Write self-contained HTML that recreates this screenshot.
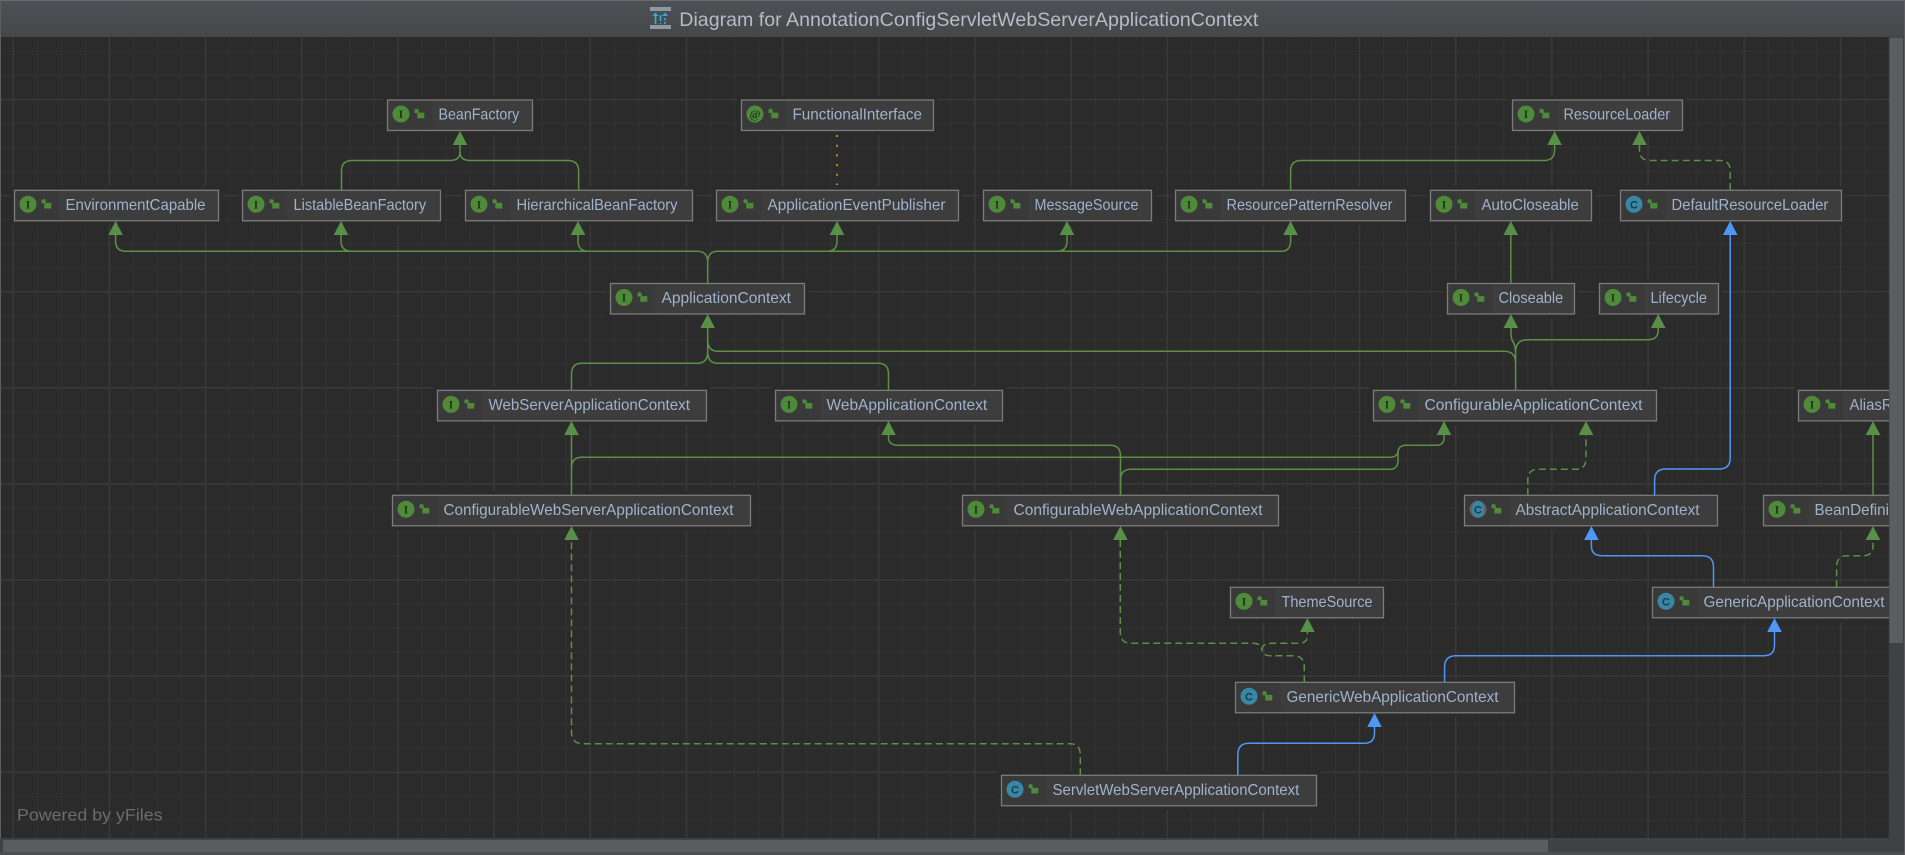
<!DOCTYPE html>
<html><head><meta charset="utf-8"><title>Diagram</title>
<style>
html,body{margin:0;padding:0;background:#2b2b2b;width:1905px;height:855px;overflow:hidden}
svg{display:block}
.h{fill:#2b2b2b}
.b{fill:#3d3d3d;stroke:#7b7b7b;stroke-width:1.3}
.i{fill:#393939}
.t{font:16px "Liberation Sans",sans-serif;fill:#a0b3cc}
.g{fill:#4f8a3a}.c{fill:#3a87a5}
.l{font:bold 12px "Liberation Serif",serif;fill:#24381c;text-anchor:middle}
.m{font:bold 11px "Liberation Sans",sans-serif;fill:#143c4c;text-anchor:middle}
.e{fill:none;stroke:#5d8f47;stroke-width:1.5}
.d{fill:none;stroke:#5d8f47;stroke-width:1.5;stroke-dasharray:7 4}
.u{fill:none;stroke:#4f97f5;stroke-width:1.5}
</style></head><body>
<svg width="1905" height="855" viewBox="0 0 1905 855" xmlns="http://www.w3.org/2000/svg">
<defs>
<pattern id="mi" x="12.7" y="2.8" width="24.04" height="24.03" patternUnits="userSpaceOnUse"><path d="M0 .6H24.04M.6 0V24.03" stroke="#323232" stroke-width="1" fill="none"/></pattern>
<pattern id="ma" x="12.6" y="2.7" width="96.17" height="96.1" patternUnits="userSpaceOnUse"><path d="M0 .6H96.17M.6 0V96.1" stroke="#3b3b3b" stroke-width="1.2" fill="none"/></pattern>
<linearGradient id="tb" x1="0" y1="0" x2="0" y2="1"><stop offset="0" stop-color="#4e5155"/><stop offset="1" stop-color="#45484b"/></linearGradient>
<clipPath id="cv"><rect x="0" y="37" width="1889" height="801"/></clipPath>
<path id="k" d="M27 13V10.5Q27 8.8 29 8.8Q31.2 8.8 31.2 10.8V12.6H36.8V18.2H29.8V13Z" fill="#4f8a3a"/>
<path id="ag" d="M0 0L7.3 14H-7.3Z" fill="#5a8f47"/>
<path id="ab" d="M0 0L7.3 14H-7.3Z" fill="#4f97f5"/>
</defs>
<rect width="1905" height="855" fill="#3c3f41"/>
<rect x="0" y="37" width="1889" height="801" fill="#2b2b2b"/>
<rect x="0" y="37" width="1889" height="801" fill="url(#mi)"/>
<rect x="0" y="37" width="1889" height="801" fill="url(#ma)"/>
<rect x="0" y="0" width="1905" height="37" fill="url(#tb)"/>
<rect x="0" y="0" width="1905" height="1" fill="#6a6a6a"/>
<rect x="0" y="0" width="1" height="855" fill="#5e5e5e"/>
<g>
<rect x="650" y="7" width="21" height="4" fill="#8d9aa3"/><rect x="650" y="25" width="21" height="4" fill="#8d9aa3"/>
<path d="M655.5 24V15M660.5 24V23M660.5 21V15" stroke="#35a8dc" stroke-width="1.6" fill="none"/>
<path d="M652.5 16L655.5 12.5L658.5 16ZM662 16L665 12.5L668 16Z" fill="#35a8dc"/>
<path d="M665 24V22M665 20.5V18" stroke="#35a8dc" stroke-width="1.6" fill="none"/>
</g>
<text x="679.3" y="26" font-family="Liberation Sans, sans-serif" font-size="19.5" fill="#b4bcc4" textLength="579" lengthAdjust="spacingAndGlyphs">Diagram for AnnotationConfigServletWebServerApplicationContext</text>

<g clip-path="url(#cv)">
<g transform="translate(387.5,100)"><rect class="h" x="-4" y="-4" width="153" height="39"/><rect class="b" width="145" height="30.5"/><rect class="i" x="1" y="1" width="44" height="28.5"/><circle class="g" cx="13.5" cy="14" r="8.5"/><text class="l" x="13.5" y="18">I</text><use href="#k"/><text class="t" x="51" y="19.7" textLength="80.7" lengthAdjust="spacingAndGlyphs">BeanFactory</text></g>
<g transform="translate(741.5,100)"><rect class="h" x="-4" y="-4" width="200" height="39"/><rect class="b" width="192" height="30.5"/><rect class="i" x="1" y="1" width="44" height="28.5"/><circle class="g" cx="13.5" cy="14" r="8.5"/><text class="l" x="13.5" y="18">@</text><use href="#k"/><text class="t" x="51" y="19.7" textLength="129.4" lengthAdjust="spacingAndGlyphs">FunctionalInterface</text></g>
<g transform="translate(1512.5,100)"><rect class="h" x="-4" y="-4" width="178" height="39"/><rect class="b" width="170" height="30.5"/><rect class="i" x="1" y="1" width="44" height="28.5"/><circle class="g" cx="13.5" cy="14" r="8.5"/><text class="l" x="13.5" y="18">I</text><use href="#k"/><text class="t" x="51" y="19.7" textLength="106.6" lengthAdjust="spacingAndGlyphs">ResourceLoader</text></g>

<g transform="translate(14.5,190.3)"><rect class="h" x="-4" y="-4" width="212" height="39"/><rect class="b" width="204" height="30.5"/><rect class="i" x="1" y="1" width="44" height="28.5"/><circle class="g" cx="13.5" cy="14" r="8.5"/><text class="l" x="13.5" y="18">I</text><use href="#k"/><text class="t" x="51" y="19.7" textLength="140" lengthAdjust="spacingAndGlyphs">EnvironmentCapable</text></g>
<g transform="translate(242.5,190.3)"><rect class="h" x="-4" y="-4" width="206" height="39"/><rect class="b" width="198" height="30.5"/><rect class="i" x="1" y="1" width="44" height="28.5"/><circle class="g" cx="13.5" cy="14" r="8.5"/><text class="l" x="13.5" y="18">I</text><use href="#k"/><text class="t" x="51" y="19.7" textLength="132.6" lengthAdjust="spacingAndGlyphs">ListableBeanFactory</text></g>
<g transform="translate(465.5,190.3)"><rect class="h" x="-4" y="-4" width="235" height="39"/><rect class="b" width="227" height="30.5"/><rect class="i" x="1" y="1" width="44" height="28.5"/><circle class="g" cx="13.5" cy="14" r="8.5"/><text class="l" x="13.5" y="18">I</text><use href="#k"/><text class="t" x="51" y="19.7" textLength="161" lengthAdjust="spacingAndGlyphs">HierarchicalBeanFactory</text></g>
<g transform="translate(716.5,190.3)"><rect class="h" x="-4" y="-4" width="250" height="39"/><rect class="b" width="242" height="30.5"/><rect class="i" x="1" y="1" width="44" height="28.5"/><circle class="g" cx="13.5" cy="14" r="8.5"/><text class="l" x="13.5" y="18">I</text><use href="#k"/><text class="t" x="51" y="19.7" textLength="178" lengthAdjust="spacingAndGlyphs">ApplicationEventPublisher</text></g>
<g transform="translate(983.5,190.3)"><rect class="h" x="-4" y="-4" width="176" height="39"/><rect class="b" width="168" height="30.5"/><rect class="i" x="1" y="1" width="44" height="28.5"/><circle class="g" cx="13.5" cy="14" r="8.5"/><text class="l" x="13.5" y="18">I</text><use href="#k"/><text class="t" x="51" y="19.7" textLength="104" lengthAdjust="spacingAndGlyphs">MessageSource</text></g>
<g transform="translate(1175.5,190.3)"><rect class="h" x="-4" y="-4" width="238" height="39"/><rect class="b" width="230" height="30.5"/><rect class="i" x="1" y="1" width="44" height="28.5"/><circle class="g" cx="13.5" cy="14" r="8.5"/><text class="l" x="13.5" y="18">I</text><use href="#k"/><text class="t" x="51" y="19.7" textLength="166" lengthAdjust="spacingAndGlyphs">ResourcePatternResolver</text></g>
<g transform="translate(1430.5,190.3)"><rect class="h" x="-4" y="-4" width="169" height="39"/><rect class="b" width="161" height="30.5"/><rect class="i" x="1" y="1" width="44" height="28.5"/><circle class="g" cx="13.5" cy="14" r="8.5"/><text class="l" x="13.5" y="18">I</text><use href="#k"/><text class="t" x="51" y="19.7" textLength="97.3" lengthAdjust="spacingAndGlyphs">AutoCloseable</text></g>
<g transform="translate(1620.5,190.3)"><rect class="h" x="-4" y="-4" width="229" height="39"/><rect class="b" width="221" height="30.5"/><rect class="i" x="1" y="1" width="44" height="28.5"/><circle class="c" cx="13.5" cy="14" r="8.5"/><text class="m" x="13.5" y="18">C</text><use href="#k"/><text class="t" x="51" y="19.7" textLength="156.8" lengthAdjust="spacingAndGlyphs">DefaultResourceLoader</text></g>

<g transform="translate(610.5,283.5)"><rect class="h" x="-4" y="-4" width="202" height="39"/><rect class="b" width="194" height="30.5"/><rect class="i" x="1" y="1" width="44" height="28.5"/><circle class="g" cx="13.5" cy="14" r="8.5"/><text class="l" x="13.5" y="18">I</text><use href="#k"/><text class="t" x="51" y="19.7" textLength="129.5" lengthAdjust="spacingAndGlyphs">ApplicationContext</text></g>
<g transform="translate(1447.5,283.5)"><rect class="h" x="-4" y="-4" width="135" height="39"/><rect class="b" width="127" height="30.5"/><rect class="i" x="1" y="1" width="44" height="28.5"/><circle class="g" cx="13.5" cy="14" r="8.5"/><text class="l" x="13.5" y="18">I</text><use href="#k"/><text class="t" x="51" y="19.7" textLength="64.7" lengthAdjust="spacingAndGlyphs">Closeable</text></g>
<g transform="translate(1599.5,283.5)"><rect class="h" x="-4" y="-4" width="127" height="39"/><rect class="b" width="119" height="30.5"/><rect class="i" x="1" y="1" width="44" height="28.5"/><circle class="g" cx="13.5" cy="14" r="8.5"/><text class="l" x="13.5" y="18">I</text><use href="#k"/><text class="t" x="51" y="19.7" textLength="56.4" lengthAdjust="spacingAndGlyphs">Lifecycle</text></g>

<g transform="translate(437.5,390.4)"><rect class="h" x="-4" y="-4" width="277" height="39"/><rect class="b" width="269" height="30.5"/><rect class="i" x="1" y="1" width="44" height="28.5"/><circle class="g" cx="13.5" cy="14" r="8.5"/><text class="l" x="13.5" y="18">I</text><use href="#k"/><text class="t" x="51" y="19.7" textLength="201.4" lengthAdjust="spacingAndGlyphs">WebServerApplicationContext</text></g>
<g transform="translate(775.5,390.4)"><rect class="h" x="-4" y="-4" width="235" height="39"/><rect class="b" width="227" height="30.5"/><rect class="i" x="1" y="1" width="44" height="28.5"/><circle class="g" cx="13.5" cy="14" r="8.5"/><text class="l" x="13.5" y="18">I</text><use href="#k"/><text class="t" x="51" y="19.7" textLength="160.7" lengthAdjust="spacingAndGlyphs">WebApplicationContext</text></g>
<g transform="translate(1373.5,390.4)"><rect class="h" x="-4" y="-4" width="291" height="39"/><rect class="b" width="283" height="30.5"/><rect class="i" x="1" y="1" width="44" height="28.5"/><circle class="g" cx="13.5" cy="14" r="8.5"/><text class="l" x="13.5" y="18">I</text><use href="#k"/><text class="t" x="51" y="19.7" textLength="218" lengthAdjust="spacingAndGlyphs">ConfigurableApplicationContext</text></g>
<g transform="translate(1798.5,390.4)"><rect class="h" x="-4" y="-4" width="150" height="39"/><rect class="b" width="142" height="30.5"/><rect class="i" x="1" y="1" width="44" height="28.5"/><circle class="g" cx="13.5" cy="14" r="8.5"/><text class="l" x="13.5" y="18">I</text><use href="#k"/><text class="t" x="51" y="19.7" textLength="87" lengthAdjust="spacingAndGlyphs">AliasRegistry</text></g>

<g transform="translate(392.5,495.3)"><rect class="h" x="-4" y="-4" width="366" height="39"/><rect class="b" width="358" height="30.5"/><rect class="i" x="1" y="1" width="44" height="28.5"/><circle class="g" cx="13.5" cy="14" r="8.5"/><text class="l" x="13.5" y="18">I</text><use href="#k"/><text class="t" x="51" y="19.7" textLength="290" lengthAdjust="spacingAndGlyphs">ConfigurableWebServerApplicationContext</text></g>
<g transform="translate(962.5,495.3)"><rect class="h" x="-4" y="-4" width="324" height="39"/><rect class="b" width="316" height="30.5"/><rect class="i" x="1" y="1" width="44" height="28.5"/><circle class="g" cx="13.5" cy="14" r="8.5"/><text class="l" x="13.5" y="18">I</text><use href="#k"/><text class="t" x="51" y="19.7" textLength="249" lengthAdjust="spacingAndGlyphs">ConfigurableWebApplicationContext</text></g>
<g transform="translate(1464.5,495.3)"><rect class="h" x="-4" y="-4" width="261" height="39"/><rect class="b" width="253" height="30.5"/><rect class="i" x="1" y="1" width="44" height="28.5"/><circle cx="13.5" cy="14" r="8.5" fill="#5f6366"/><ellipse class="c" cx="13.5" cy="14" rx="6" ry="8.5"/><text class="m" x="13.5" y="18">C</text><use href="#k"/><text class="t" x="51" y="19.7" textLength="184" lengthAdjust="spacingAndGlyphs">AbstractApplicationContext</text></g>
<g transform="translate(1763.5,495.3)"><rect class="h" x="-4" y="-4" width="228" height="39"/><rect class="b" width="220" height="30.5"/><rect class="i" x="1" y="1" width="44" height="28.5"/><circle class="g" cx="13.5" cy="14" r="8.5"/><text class="l" x="13.5" y="18">I</text><use href="#k"/><text class="t" x="51" y="19.7" textLength="155" lengthAdjust="spacingAndGlyphs">BeanDefinitionRegistry</text></g>

<g transform="translate(1230.5,587.3)"><rect class="h" x="-4" y="-4" width="161" height="39"/><rect class="b" width="153" height="30.5"/><rect class="i" x="1" y="1" width="44" height="28.5"/><circle class="g" cx="13.5" cy="14" r="8.5"/><text class="l" x="13.5" y="18">I</text><use href="#k"/><text class="t" x="51" y="19.7" textLength="91" lengthAdjust="spacingAndGlyphs">ThemeSource</text></g>
<g transform="translate(1652.5,587.3)"><rect class="h" x="-4" y="-4" width="248" height="39"/><rect class="b" width="240" height="30.5"/><rect class="i" x="1" y="1" width="44" height="28.5"/><circle class="c" cx="13.5" cy="14" r="8.5"/><text class="m" x="13.5" y="18">C</text><use href="#k"/><text class="t" x="51" y="19.7" textLength="181" lengthAdjust="spacingAndGlyphs">GenericApplicationContext</text></g>

<g transform="translate(1235.5,682.3)"><rect class="h" x="-4" y="-4" width="287" height="39"/><rect class="b" width="279" height="30.5"/><rect class="i" x="1" y="1" width="44" height="28.5"/><circle class="c" cx="13.5" cy="14" r="8.5"/><text class="m" x="13.5" y="18">C</text><use href="#k"/><text class="t" x="51" y="19.7" textLength="212" lengthAdjust="spacingAndGlyphs">GenericWebApplicationContext</text></g>
<g transform="translate(1001.5,775.3)"><rect class="h" x="-4" y="-4" width="323" height="39"/><rect class="b" width="315" height="30.5"/><rect class="i" x="1" y="1" width="44" height="28.5"/><circle class="c" cx="13.5" cy="14" r="8.5"/><text class="m" x="13.5" y="18">C</text><use href="#k"/><text class="t" x="51" y="19.7" textLength="246.8" lengthAdjust="spacingAndGlyphs">ServletWebServerApplicationContext</text></g>

<!-- solid green -->
<path class="e" d="M460 145V152Q460 160.5 450 160.5H352Q341.5 160.5 341.5 171V190"/>
<path class="e" d="M460 152Q460 160.5 470 160.5H568Q578.6 160.5 578.6 171V190"/>
<path class="e" d="M707.7 283V262Q707.7 251.3 697 251.3H126Q115.6 251.3 115.6 241V235"/>
<path class="e" d="M352 251.3Q341 251.3 341 241V235M589 251.3Q578 251.3 578 241V235"/>
<path class="e" d="M707.7 262Q707.7 251.3 718 251.3H1281Q1290.6 251.3 1290.6 241V235"/>
<path class="e" d="M827 251.3Q837 251.3 837 241V235M1057 251.3Q1067 251.3 1067 241V235"/>
<path class="e" d="M1290.6 190V171Q1290.6 160.5 1301 160.5H1544Q1554.6 160.5 1554.6 150V145"/>
<path class="e" d="M1510.8 283.5V235"/>
<path class="e" d="M1515.6 390.4V353Q1515.6 345 1512 340Q1510.9 337 1510.9 330V328"/>
<path class="e" d="M1515.6 352Q1515.6 339.7 1528 339.7H1648Q1658.2 339.7 1658.2 330V328"/>
<path class="e" d="M1515.6 363Q1515.6 351.3 1504 351.3H718Q707.7 351.3 707.7 340V328"/>
<path class="e" d="M571.5 390.4V374Q571.5 363.3 582 363.3H697Q707.7 363.3 707.7 352V328"/>
<path class="e" d="M707.7 352Q707.7 363.3 718 363.3H878Q888.5 363.3 888.5 374V390.4"/>
<path class="e" d="M1120.5 495.3V456Q1120.5 445.3 1110 445.3H899Q888.5 445.3 888.5 438V435"/>
<path class="e" d="M571.5 495.3V435"/>
<path class="e" d="M571.5 468Q571.5 457.3 582 457.3H1390Q1398 457.3 1398 450"/>
<path class="e" d="M1120.5 495.3V480Q1120.5 469.3 1131 469.3H1390Q1398 469.3 1398 460V453Q1398 445.3 1406 445.3H1436Q1444 445.3 1444 438V435"/>
<path class="e" d="M1873 495.3V435"/>
<!-- dashed green -->
<path class="d" d="M1730.2 190V171Q1730.2 160.5 1720 160.5H1650Q1639.5 160.5 1639.5 150V145"/>
<path class="d" d="M1527.8 495.3V480Q1527.8 469.3 1538 469.3H1576Q1586 469.3 1586 458V435"/>
<path class="d" d="M1836.6 587.3V567Q1836.6 555.7 1847 555.7H1863Q1873 555.7 1873 546V540"/>
<path class="d" d="M1120.3 540V632Q1120.3 643.3 1131 643.3H1252Q1261.8 643.3 1261.8 650"/>
<path class="d" d="M1261.8 650Q1261.8 643.3 1272 643.3H1298Q1307.4 643.3 1307.4 636V632"/>
<path class="d" d="M1304.3 682.3V667Q1304.3 655.7 1293 655.7H1270Q1261.8 655.7 1261.8 648"/>
<path class="d" d="M1080.3 775.3V755Q1080.3 743.7 1070 743.7H583Q571.5 743.7 571.5 732V540"/>
<!-- blue -->
<path class="u" d="M1654.6 495.3V480Q1654.6 469 1666 469H1719Q1730.2 469 1730.2 458V235"/>
<path class="u" d="M1713.5 587.3V567Q1713.5 555.7 1702 555.7H1602Q1591.4 555.7 1591.4 546V540"/>
<path class="u" d="M1444.6 682.3V667Q1444.6 655.7 1456 655.7H1764Q1774.5 655.7 1774.5 645V632"/>
<path class="u" d="M1237.8 775.3V755Q1237.8 743.3 1249 743.3H1364Q1374.5 743.3 1374.5 733V727"/>
<!-- dotted -->
<path d="M837 135V185" stroke="#a09a10" stroke-width="2" stroke-dasharray="2 7.7" fill="none"/>
<!-- arrowheads -->
<use href="#ag" x="460" y="131"/><use href="#ag" x="115.6" y="221"/><use href="#ag" x="341" y="221"/><use href="#ag" x="578" y="221"/><use href="#ag" x="837" y="221"/><use href="#ag" x="1067" y="221"/><use href="#ag" x="1290.6" y="221"/><use href="#ag" x="1510.8" y="221"/><use href="#ag" x="1554.6" y="131"/><use href="#ag" x="1639.5" y="131"/>
<use href="#ag" x="707.7" y="314"/><use href="#ag" x="1510.9" y="314"/><use href="#ag" x="1658.2" y="314"/>
<use href="#ag" x="571.5" y="421"/><use href="#ag" x="888.5" y="421"/><use href="#ag" x="1444" y="421"/><use href="#ag" x="1586" y="421"/><use href="#ag" x="1873" y="421"/>
<use href="#ag" x="571.5" y="526"/><use href="#ag" x="1120.4" y="526"/><use href="#ag" x="1873" y="526"/><use href="#ag" x="1307.4" y="618"/>
<use href="#ab" x="1730.2" y="221"/><use href="#ab" x="1591.4" y="526"/><use href="#ab" x="1774.5" y="618"/><use href="#ab" x="1374.5" y="713"/>
<text x="17" y="820.7" font-family="Liberation Sans, sans-serif" font-size="17" fill="#6c6c6c" textLength="145.5" lengthAdjust="spacingAndGlyphs">Powered by yFiles</text>
</g>
<!-- scrollbars -->
<rect x="1889" y="37" width="15" height="801" fill="#3f4244"/>
<rect x="1889.5" y="38" width="13.5" height="605" fill="#5a5e5f"/>
<rect x="0" y="838" width="1905" height="14" fill="#3f4244"/>
<rect x="3" y="840" width="1545" height="12" fill="#595d5e"/>
<rect x="0" y="852" width="1905" height="3" fill="#4c4f51"/>
<rect x="1904" y="0" width="1" height="855" fill="#5e5e5e"/>
</svg>
</body></html>
